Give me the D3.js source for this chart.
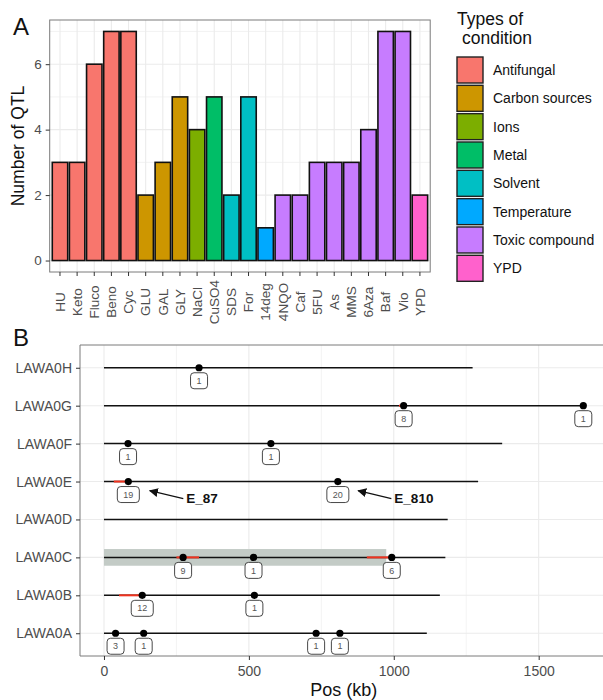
<!DOCTYPE html>
<html>
<head>
<meta charset="utf-8">
<script src="https://cdn.jsdelivr.net/npm/d3@7"></script>
<style>
  body { margin: 0; background: #fff; }
  svg { font-family: "Liberation Sans", Arial, sans-serif; }
</style>
</head>
<body>
<svg id="chart" width="603" height="700"></svg>
<script>
// panel A data
const categories = ['HU', 'Keto', 'Fluco', 'Beno', 'Cyc', 'GLU', 'GAL', 'GLY', 'NaCl', 'CuSO4', 'SDS',
  'For', '14deg', '4NQO', 'Caf', '5FU', 'As', 'MMS', '6Aza', 'Baf', 'Vio', 'YPD']
const qtlCounts = [3, 3, 6, 7, 7, 2, 3, 5, 4, 5, 2, 5, 1, 2, 2, 3, 3, 3, 4, 7, 7, 2]
const categoryTypes = ['Antifungal', 'Antifungal', 'Antifungal', 'Antifungal', 'Antifungal',
  'Carbon sources', 'Carbon sources', 'Carbon sources', 'Ions', 'Metal', 'Solvent', 'Solvent',
  'Temperature', 'Toxic compound', 'Toxic compound', 'Toxic compound', 'Toxic compound',
  'Toxic compound', 'Toxic compound', 'Toxic compound', 'Toxic compound', 'YPD']
const types = ['Antifungal', 'Carbon sources', 'Ions', 'Metal', 'Solvent', 'Temperature',
  'Toxic compound', 'YPD']
const typeColors = ['#F8766D', '#CD9600', '#7CAE00', '#00BE67', '#00BFC4', '#00A9FF', '#C77CFF', '#FF61CC']
const countTicks = [0, 2, 4, 6]

// panel B data
const chromosomes = ['LAWA0A', 'LAWA0B', 'LAWA0C', 'LAWA0D', 'LAWA0E', 'LAWA0F', 'LAWA0G', 'LAWA0H']
const chromLengths = [1114, 1159, 1178, 1186, 1291, 1374, 1655, 1272]
const peakChrom = ['LAWA0A', 'LAWA0A', 'LAWA0A', 'LAWA0A', 'LAWA0B', 'LAWA0B', 'LAWA0C', 'LAWA0C',
  'LAWA0C', 'LAWA0E', 'LAWA0E', 'LAWA0F', 'LAWA0F', 'LAWA0G', 'LAWA0G', 'LAWA0H']
const peakPos = [40, 137, 732, 814, 132, 519, 273, 516, 993, 84, 807, 83, 576, 1034, 1654, 328]
const peakCount = [3, 1, 1, 1, 12, 1, 9, 1, 6, 19, 20, 1, 1, 8, 1, 1]
const ciChrom = ['LAWA0B', 'LAWA0C', 'LAWA0C', 'LAWA0E', 'LAWA0E', 'LAWA0G']
const ciFrom = [52, 250, 907, 34, 800, 1018]
const ciTo = [132, 328, 993, 84, 815, 1034]
const bandChrom = ['LAWA0C']
const bandFrom = [0]
const bandTo = [974]
const noteLabels = ['E_87', 'E_810']
const noteChrom = ['LAWA0E', 'LAWA0E']
const noteTip = [158, 877]
const noteText = [284, 1002]
const posTicks = [0, 500, 1000, 1500]
const posMinor = [250, 750, 1250]

const svg = d3.select('#chart')
const grid = '#ebebeb'
const axisText = '#4d4d4d'

svg.append('defs').append('marker')
  .attr('id', 'arrow')
  .attr('viewBox', '0 0 10 10')
  .attr('refX', 9).attr('refY', 5)
  .attr('markerWidth', 9).attr('markerHeight', 9)
  .attr('markerUnits', 'userSpaceOnUse')
  .attr('orient', 'auto-start-reverse')
  .append('path').attr('d', 'M0,0L10,5L0,10Z').attr('fill', '#111')

// ---------- panel A ----------
const a = {left: 49.7, right: 430.2, top: 20, bottom: 272}
const x = d3.scaleBand().domain(categories)
  .range([a.left, a.right]).paddingInner(0.1).paddingOuter(0.15)
const y = d3.scaleLinear().domain([-0.35, 7.35]).range([a.bottom, a.top])
const color = d3.scaleOrdinal().domain(types).range(typeColors)
const gA = svg.append('g')

gA.selectAll('.minor').data([1, 3, 5, 7]).join('line')
  .attr('x1', a.left).attr('x2', a.right)
  .attr('y1', d => y(d)).attr('y2', d => y(d))
  .attr('stroke', grid).attr('stroke-width', 0.6)
gA.selectAll('.major').data(countTicks).join('line')
  .attr('x1', a.left).attr('x2', a.right)
  .attr('y1', d => y(d)).attr('y2', d => y(d))
  .attr('stroke', grid).attr('stroke-width', 1.1)
gA.selectAll('.vgrid').data(categories).join('line')
  .attr('x1', d => x(d) + x.bandwidth() / 2).attr('x2', d => x(d) + x.bandwidth() / 2)
  .attr('y1', a.top).attr('y2', a.bottom)
  .attr('stroke', grid).attr('stroke-width', 1.1)

gA.selectAll('.bar').data(categories).join('rect')
  .attr('x', d => x(d))
  .attr('width', x.bandwidth())
  .attr('y', (d, i) => y(qtlCounts[i]))
  .attr('height', (d, i) => y(0) - y(qtlCounts[i]))
  .attr('fill', (d, i) => color(categoryTypes[i]))
  .attr('stroke', '#111').attr('stroke-width', 1.6)

gA.append('rect')
  .attr('x', a.left).attr('y', a.top)
  .attr('width', a.right - a.left).attr('height', a.bottom - a.top)
  .attr('fill', 'none').attr('stroke', '#7a7a7a').attr('stroke-width', 1)

const yAxisA = gA.append('g').attr('transform', `translate(${a.left},0)`)
  .call(d3.axisLeft(y).tickValues(countTicks).tickSize(4).tickPadding(4))
const xAxisA = gA.append('g').attr('transform', `translate(0,${a.bottom})`)
  .call(d3.axisBottom(x).tickSize(4))
xAxisA.selectAll('text')
  .attr('transform', 'rotate(-90)')
  .attr('x', -30).attr('y', 0).attr('dy', '0.35em')
  .attr('text-anchor', 'middle')
for (const ax of [yAxisA, xAxisA]) {
  ax.select('.domain').remove()
  ax.selectAll('line').attr('stroke', '#333')
  ax.selectAll('text').attr('fill', axisText).style('font-size', '13.5px')
    .style('font-family', '"Liberation Sans", Arial, sans-serif')
}

svg.append('text')
  .attr('transform', `translate(18,${(a.top + a.bottom) / 2}) rotate(-90)`)
  .attr('text-anchor', 'middle').attr('dy', '0.35em')
  .style('font-size', '17.5px').attr('fill', '#111')
  .text('Number of QTL')
svg.append('text').attr('x', 13).attr('y', 35)
  .style('font-size', '24px').attr('fill', '#111').text('A')

// legend
const legend = svg.append('g').attr('transform', 'translate(457,0)')
legend.append('text').attr('y', 25).style('font-size', '17.5px').attr('fill', '#111')
  .text('Types of')
legend.append('text').attr('x', 5).attr('y', 44).style('font-size', '17.5px').attr('fill', '#111')
  .text('condition')
const keys = legend.selectAll('.key').data(types).join('g')
  .attr('transform', (d, i) => `translate(0,${57 + i * 28.33})`)
keys.append('rect').attr('width', 26).attr('height', 26)
  .attr('fill', d => color(d)).attr('stroke', '#222').attr('stroke-width', 1.4)
keys.append('text').attr('x', 36).attr('y', 13).attr('dy', '0.35em')
  .style('font-size', '14px').attr('fill', '#111').text(d => d)

// ---------- panel B ----------
const b = {left: 80, top: 345, bottom: 656}
const xMax = d3.max(chromLengths)
const pos = d3.scaleLinear().domain([-0.05 * xMax, 1.05 * xMax])
  .range([b.left, b.left + 1.1 * xMax * 0.2898])
b.right = pos.range()[1]
const row = d3.scalePoint().domain(chromosomes).range([b.bottom, b.top]).padding(0.6)
const step = row.step()
const gB = svg.append('g')

gB.append('clipPath').attr('id', 'clipB').append('rect')
  .attr('x', b.left).attr('y', b.top)
  .attr('width', b.right - b.left).attr('height', b.bottom - b.top)

gB.selectAll('.vminor').data(posMinor).join('line')
  .attr('x1', d => pos(d)).attr('x2', d => pos(d))
  .attr('y1', b.top).attr('y2', b.bottom)
  .attr('stroke', grid).attr('stroke-width', 0.6)
gB.selectAll('.vmajor').data(posTicks).join('line')
  .attr('x1', d => pos(d)).attr('x2', d => pos(d))
  .attr('y1', b.top).attr('y2', b.bottom)
  .attr('stroke', grid).attr('stroke-width', 1.1)
gB.selectAll('.hmajor').data(chromosomes).join('line')
  .attr('x1', b.left).attr('x2', b.right)
  .attr('y1', d => row(d)).attr('y2', d => row(d))
  .attr('stroke', grid).attr('stroke-width', 1.1)

gB.selectAll('.band').data(bandChrom).join('rect')
  .attr('x', (d, i) => pos(bandFrom[i]))
  .attr('width', (d, i) => pos(bandTo[i]) - pos(bandFrom[i]))
  .attr('y', d => row(d) - 0.22 * step)
  .attr('height', 0.44 * step)
  .attr('fill', '#c3cbc6')

gB.selectAll('.chrom').data(chromosomes).join('line')
  .attr('x1', pos(0)).attr('x2', (d, i) => pos(chromLengths[i]))
  .attr('y1', d => row(d)).attr('y2', d => row(d))
  .attr('stroke', '#111').attr('stroke-width', 1.5)

gB.selectAll('.ci').data(ciChrom).join('line')
  .attr('x1', (d, i) => pos(ciFrom[i])).attr('x2', (d, i) => pos(ciTo[i]))
  .attr('y1', d => row(d)).attr('y2', d => row(d))
  .attr('stroke', '#f0321e').attr('stroke-width', 2)

gB.selectAll('.peak').data(peakChrom).join('circle')
  .attr('cx', (d, i) => pos(peakPos[i])).attr('cy', d => row(d))
  .attr('r', 3.6).attr('fill', '#000')

const labels = gB.append('g').attr('clip-path', 'url(#clipB)')
  .selectAll('.lab').data(peakChrom).join('g')
  .attr('transform', (d, i) => `translate(${pos(peakPos[i])},${row(d) + 5})`)
labels.append('rect')
  .attr('x', (d, i) => peakCount[i] > 9 ? -11 : -8.5)
  .attr('width', (d, i) => peakCount[i] > 9 ? 22 : 17)
  .attr('height', 16).attr('rx', 3.5)
  .attr('fill', '#fff').attr('stroke', '#333').attr('stroke-width', 0.9)
labels.append('text').attr('y', 8).attr('dy', '0.35em')
  .attr('text-anchor', 'middle').style('font-size', '9px').attr('fill', '#555')
  .text((d, i) => peakCount[i])

const notes = gB.selectAll('.note').data(noteLabels).join('g')
notes.append('line')
  .attr('x1', (d, i) => pos(noteText[i]) - 3).attr('y1', (d, i) => row(noteChrom[i]) + 0.45 * step)
  .attr('x2', (d, i) => pos(noteTip[i])).attr('y2', (d, i) => row(noteChrom[i]) + 0.24 * step)
  .attr('stroke', '#111').attr('stroke-width', 1.1)
  .attr('marker-end', 'url(#arrow)')
notes.append('text')
  .attr('x', (d, i) => pos(noteText[i])).attr('y', (d, i) => row(noteChrom[i]) + 0.45 * step)
  .attr('dy', '0.35em').style('font-size', '13.5px').style('font-weight', 'bold')
  .attr('fill', '#111').text(d => d)

gB.append('path')
  .attr('d', `M${b.right},${b.top}H${b.left}V${b.bottom}H${b.right}`)
  .attr('fill', 'none').attr('stroke', '#7a7a7a').attr('stroke-width', 1)

const yAxisB = gB.append('g').attr('transform', `translate(${b.left},0)`)
  .call(d3.axisLeft(row).tickSize(4).tickPadding(4))
const xAxisB = gB.append('g').attr('transform', `translate(0,${b.bottom})`)
  .call(d3.axisBottom(pos).tickValues(posTicks).tickFormat(d3.format('d'))
    .tickSize(4).tickPadding(6))
for (const ax of [yAxisB, xAxisB]) {
  ax.select('.domain').remove()
  ax.selectAll('line').attr('stroke', '#333')
  ax.selectAll('text').attr('fill', axisText).style('font-size', '14px')
    .style('font-family', '"Liberation Sans", Arial, sans-serif')
}

svg.append('text')
  .attr('x', (b.left + b.right) / 2).attr('y', 690).attr('dy', '0.35em')
  .attr('text-anchor', 'middle').style('font-size', '18px').attr('fill', '#111')
  .text('Pos (kb)')
svg.append('text').attr('x', 13).attr('y', 346)
  .style('font-size', '24px').attr('fill', '#111').text('B')
</script>
</body>
</html>
